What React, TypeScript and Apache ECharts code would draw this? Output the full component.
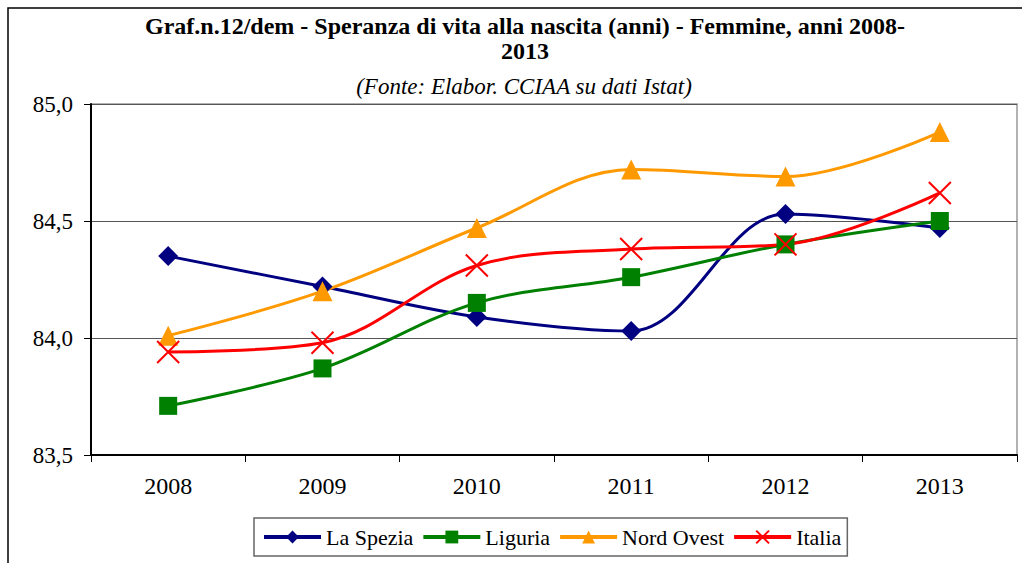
import React, { useEffect, useRef } from "react";
import * as echarts from "echarts";

const years = ["2008", "2009", "2010", "2011", "2012", "2013"];
const laSpezia = [84.35, 84.22, 84.09, 84.03, 84.53, 84.47];
const liguria = [83.71, 83.87, 84.15, 84.26, 84.4, 84.5];
const nordOvest = [84.01, 84.2, 84.47, 84.72, 84.69, 84.88];
const italia = [83.94, 83.98, 84.31, 84.38, 84.4, 84.62];

const titleLine1 = "Graf.n.12/dem - Speranza di vita alla nascita (anni) - Femmine, anni 2008-";
const titleLine2 = "2013";
const subtitle = "(Fonte: Elabor. CCIAA su dati Istat)";

const FONT = "Liberation Serif";

export default function App() {
  const ref = useRef<HTMLDivElement>(null);
  useEffect(() => {
    if (!ref.current) return;
    const chart = echarts.init(ref.current, undefined, { renderer: "svg" });
    const mk = (name: string, data: number[], color: string, symbol: string, size: number, extra: any = {}) => ({
      name,
      type: "line",
      data,
      smooth: 0.35,
      symbol,
      symbolSize: size,
      lineStyle: { color, width: 3 },
      itemStyle: { color },
      emphasis: { disabled: true },
      ...extra,
    });
    chart.setOption({
      animation: false,
      backgroundColor: "#ffffff",
      textStyle: { fontFamily: FONT },
      title: [
        {
          text: titleLine1 + "\n" + titleLine2,
          left: 525,
          textAlign: "center",
          top: 13,
          padding: 0,
          textStyle: { fontFamily: FONT, fontSize: 24, fontWeight: "bold", color: "#000", lineHeight: 25 },
        },
        {
          text: subtitle,
          left: 524,
          textAlign: "center",
          top: 74,
          padding: 0,
          textStyle: { fontFamily: FONT, fontSize: 23, fontStyle: "italic", fontWeight: "normal", color: "#000", lineHeight: 24 },
        },
      ],
      grid: { left: 91, right: 5, top: 104, bottom: 108, show: true, borderColor: "#999", borderWidth: 1.5 },
      xAxis: {
        type: "category",
        data: years,
        boundaryGap: true,
        axisLine: { lineStyle: { color: "#000", width: 2 } },
        axisTick: { show: true, length: 7, lineStyle: { color: "#000" } },
        axisLabel: { fontFamily: FONT, fontSize: 24, color: "#000", margin: 19 },
      },
      yAxis: {
        type: "value",
        min: 83.5,
        max: 85,
        interval: 0.5,
        axisLine: { show: true, lineStyle: { color: "#000", width: 2 } },
        axisTick: { show: true, length: 7, lineStyle: { color: "#000" } },
        splitLine: { lineStyle: { color: "#555", width: 1 } },
        axisLabel: {
          fontFamily: FONT,
          fontSize: 23,
          color: "#000",
          margin: 18,
          formatter: (v: number) => v.toFixed(1).replace(".", ","),
        },
      },
      legend: {
        left: 254,
        top: 518,
        width: 604,
        height: 43,
        padding: [8, 6, 8, 8],
        borderColor: "#666",
        borderWidth: 1.5,
        itemWidth: 57,
        itemHeight: 16,
        itemGap: 8,
        lineStyle: { width: 4 },
        textStyle: { fontFamily: FONT, fontSize: 22, color: "#000", padding: [0, 0, 0, 0] },
        data: ["La Spezia", "Liguria", "Nord Ovest", "Italia"],
      },
      graphic: [
        {
          type: "polyline",
          shape: { points: [[8, 563], [8, 8], [1022, 8]] },
          style: { stroke: "#000", lineWidth: 1.5, fill: "none" },
          silent: true,
        },
      ],
      series: [
        mk("La Spezia", laSpezia, "#000080", "diamond", 20),
        mk("Liguria", liguria, "#008000", "rect", 18),
        mk("Nord Ovest", nordOvest, "#FF9900", "triangle", 20),
        mk("Italia", italia, "#FF0000", "path://M0,0L10,10M10,0L0,10", 22, {
          itemStyle: { color: "rgba(0,0,0,0)", borderColor: "#FF0000", borderWidth: 2 },
        }),
      ],
    });
    return () => chart.dispose();
  }, []);
  return <div ref={ref} style={{ position: "fixed", left: 0, top: 0, width: 1022, height: 563 }} />;
}
